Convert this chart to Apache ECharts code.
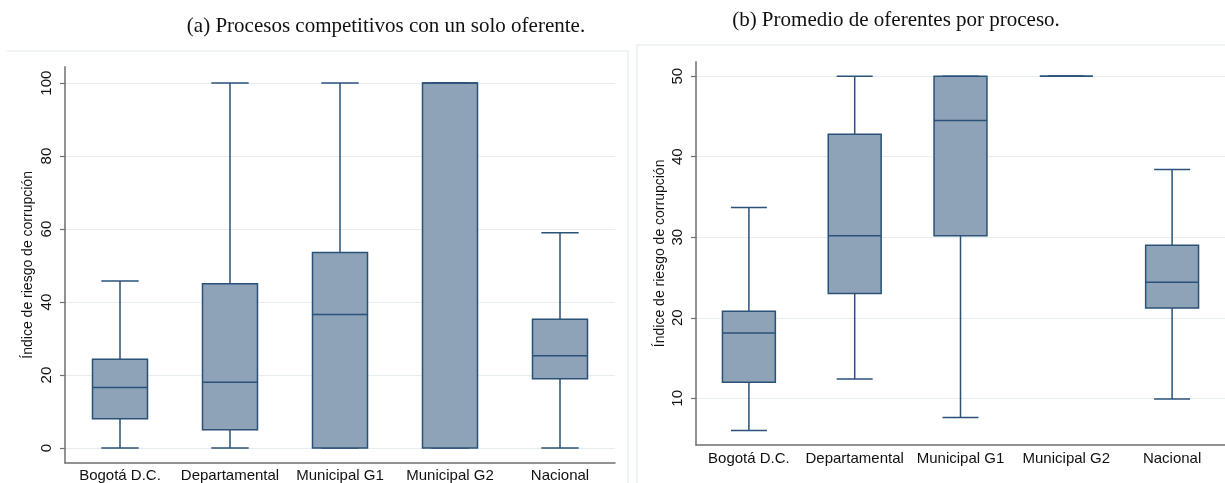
<!DOCTYPE html>
<html>
<head>
<meta charset="utf-8">
<script src="https://cdn.jsdelivr.net/npm/echarts@6/dist/echarts.min.js"></script>
<style>
  html, body { margin: 0; padding: 0; background: #ffffff; }
  #chart { width: 1225px; height: 483px; }
</style>
</head>
<body>
<div id="chart"></div>
<script>
// Categories shared by both panels
const categories = ['Bogotá D.C.', 'Departamental', 'Municipal G1', 'Municipal G2', 'Nacional'];

// Box summaries per category: [min, Q1, median, Q3, max]
const soloOferente = [
  [0, 8, 16.6, 24.3, 45.8],
  [0, 5, 18, 45, 100],
  [0, 0, 36.6, 53.6, 100],
  [0, 0, 100, 100, 100],
  [0, 19, 25.3, 35.3, 59]
];
const promedioOferentes = [
  [6, 12, 18.1, 20.8, 33.7],
  [12.4, 23, 30.2, 42.8, 50],
  [7.6, 30.2, 44.5, 50, 50],
  [50, 50, 50, 50, 50],
  [9.9, 21.2, 24.4, 29, 38.4]
];

// Tick labels on the value axes
const ticksA = [0, 20, 40, 60, 80, 100];
const ticksB = [10, 20, 30, 40, 50];

const titleA = '(a) Procesos competitivos con un solo oferente.';
const titleB = '(b) Promedio de oferentes por proceso.';
const yName = 'Índice de riesgo de corrupción';

const FILL = '#8ea3b7';
const EDGE = '#2a5179';
const AXIS = '#6f6f6f';
const GRID = '#e7eef1';
const SANS = '"Liberation Sans", Arial, Helvetica, sans-serif';
const SERIF = '"Liberation Serif", "DejaVu Serif", serif';

function toRows(summary) {
  return summary.map((s, i) => [i].concat(s));
}

// Stata-style box: filled box with outline, median bar, whiskers with narrower caps
function renderBox(params, api) {
  const i = api.value(0);
  const band = api.size([1, 0])[0];
  const half = band * 0.25;
  const capHalf = band * 0.17;
  const y = k => api.coord([i, api.value(k)])[1];
  const x = api.coord([i, api.value(1)])[0];
  const yMin = y(1), yQ1 = y(2), yMed = y(3), yQ3 = y(4), yMax = y(5);
  const ls = { stroke: EDGE, lineWidth: 1.5 };
  const line = (x1, y1, x2, y2) => ({ type: 'line', shape: { x1, y1, x2, y2 }, style: ls });
  return {
    type: 'group',
    children: [
      line(x, yQ1, x, yMin),
      line(x, yQ3, x, yMax),
      line(x - capHalf, yMin, x + capHalf, yMin),
      line(x - capHalf, yMax, x + capHalf, yMax),
      { type: 'rect', shape: { x: x - half, y: yQ3, width: half * 2, height: yQ1 - yQ3 },
        style: { fill: FILL, stroke: EDGE, lineWidth: 1.5 } },
      line(x - half, yMed, x + half, yMed)
    ]
  };
}

function xAxisFor(gridIndex, margin) {
  return {
    type: 'category', gridIndex, data: categories, boundaryGap: true,
    axisLine: { onZero: false, lineStyle: { color: AXIS, width: 1.5 } },
    axisTick: { show: false },
    axisLabel: { color: '#111', fontFamily: SANS, fontSize: 15, margin, interval: 0 },
    splitLine: { show: false }
  };
}

function yAxisFor(gridIndex, min, max, ticks, nameGap) {
  return {
    type: 'value', gridIndex, min, max,
    name: yName, nameLocation: 'middle', nameGap,
    nameTextStyle: { color: '#111', fontFamily: SANS, fontSize: 14 },
    axisLine: { show: true, lineStyle: { color: AXIS, width: 1.5 } },
    axisTick: { show: true, length: 5, customValues: ticks, lineStyle: { color: AXIS, width: 1.2 } },
    axisLabel: { customValues: ticks, rotate: 90, margin: 11, color: '#111', fontFamily: SANS, fontSize: 15 },
    splitLine: { show: true, lineStyle: { color: GRID, width: 1.2 } }
  };
}

const chart = echarts.init(document.getElementById('chart'), null, { renderer: 'canvas' });

chart.setOption({
  backgroundColor: '#ffffff',
  animation: false,
  title: [
    { text: titleA, left: 381, top: 11, textAlign: 'center',
      textStyle: { fontFamily: SERIF, fontSize: 21, fontWeight: 'normal', color: '#111' } },
    { text: titleB, left: 891, top: 5, textAlign: 'center',
      textStyle: { fontFamily: SERIF, fontSize: 21, fontWeight: 'normal', color: '#111' } }
  ],
  graphic: [
    { type: 'polyline', silent: true, shape: { points: [[7, 51], [628, 51], [628, 490]] },
      style: { fill: null, stroke: '#e9f0f2', lineWidth: 1.5 } },
    { type: 'polyline', silent: true, shape: { points: [[637, 490], [637, 45], [1230, 45]] },
      style: { fill: null, stroke: '#e9f0f2', lineWidth: 1.5 } }
  ],
  grid: [
    { left: 65, top: 66.7, width: 550, height: 397.6 },
    { left: 696, top: 61.7, width: 530, height: 383.3 }
  ],
  xAxis: [xAxisFor(0, 5), xAxisFor(1, 6)],
  yAxis: [
    yAxisFor(0, -4.1, 104.5, ticksA, 30),
    yAxisFor(1, 4.2, 51.8, ticksB, 29)
  ],
  series: [
    { type: 'custom', xAxisIndex: 0, yAxisIndex: 0, renderItem: renderBox,
      encode: { x: 0, y: [1, 2, 3, 4, 5] }, data: toRows(soloOferente) },
    { type: 'custom', xAxisIndex: 1, yAxisIndex: 1, renderItem: renderBox,
      encode: { x: 0, y: [1, 2, 3, 4, 5] }, data: toRows(promedioOferentes) }
  ]
});
</script>
</body>
</html>
